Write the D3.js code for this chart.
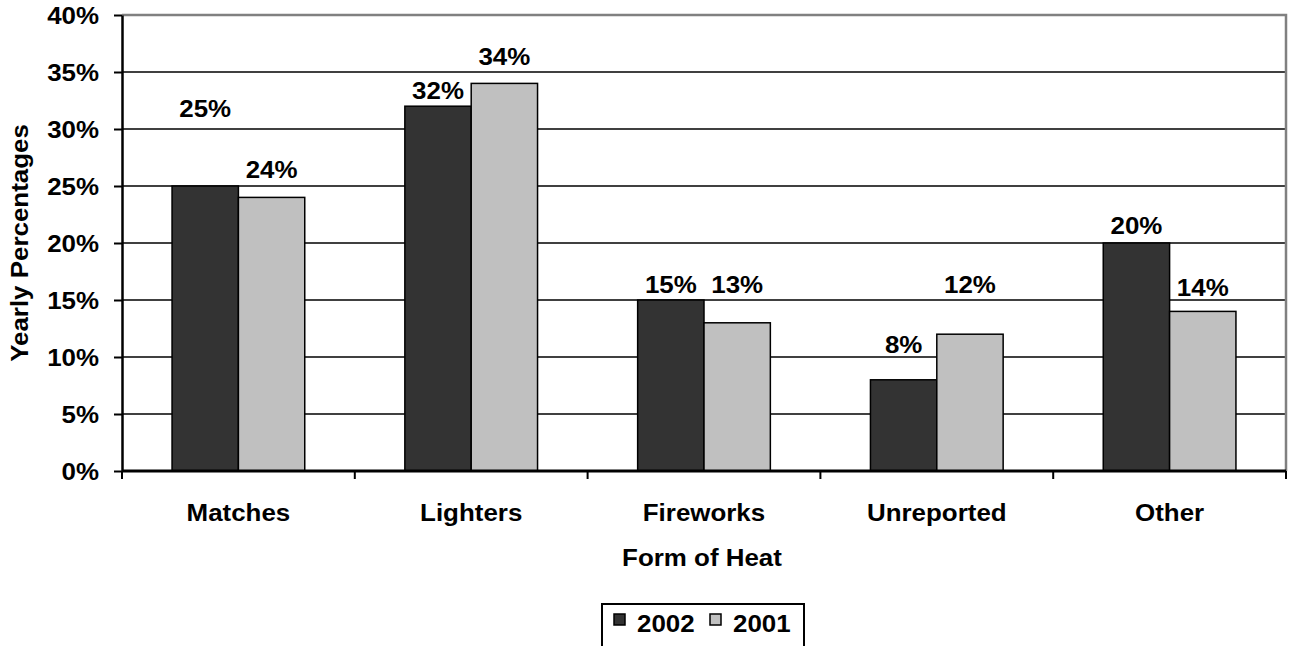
<!DOCTYPE html>
<html>
<head>
<meta charset="utf-8">
<script src="https://cdn.jsdelivr.net/npm/d3@7"></script>
<style>
  html, body { margin: 0; padding: 0; background: #fff; }
  svg text { font-family: "Liberation Sans", Arial, sans-serif; font-weight: bold; fill: #000; }
</style>
</head>
<body>
<svg id="chart" width="1289" height="646"></svg>
<script>
// Form of heat, yearly percentages
const categories = ["Matches", "Lighters", "Fireworks", "Unreported", "Other"];
const series = ["2002", "2001"];
const values2002 = [25, 32, 15, 8, 20];
const values2001 = [24, 34, 13, 12, 14];
const yTicks = [0, 5, 10, 15, 20, 25, 30, 35, 40];

const colors = { "2002": "#333333", "2001": "#c0c0c0" };
// extra lift (px) of each value label above its bar top
const labelLift = {
  "2002": [69, 7, 7, 27, 9],
  "2001": [19, 18, 30, 41, 15]
};

const svg = d3.select("#chart");
const margin = { left: 122, right: 3, top: 15, bottom: 175 };
const W = 1289, H = 646;
const plotW = W - margin.left - margin.right;
const plotH = H - margin.top - margin.bottom;
const g = svg.append("g").attr("transform", `translate(${margin.left},${margin.top})`);

const x = d3.scaleBand().domain(categories).range([0, plotW]).paddingInner(0).paddingOuter(0);
const groupPad = 0.215;
const x1 = d3.scaleBand().domain(series).range([x.bandwidth() * groupPad, x.bandwidth() * (1 - groupPad)]);
const y = d3.scaleLinear().domain([0, 40]).range([plotH, 0]);

const fs = 24;
const sx = 1.08;   // slightly widened lettering
const place = (px, py) => `translate(${px},${py}) scale(${sx},1)`;

// gridlines
g.append("g").selectAll("line").data(yTicks.filter(t => t > 0 && t < 40)).join("line")
  .attr("x1", 0).attr("x2", plotW)
  .attr("y1", d => y(d)).attr("y2", d => y(d))
  .attr("stroke", "#000").attr("stroke-width", 1.3);

// plot border (top and right)
g.append("path")
  .attr("d", `M0,${y(40)}H${plotW}V${plotH}`)
  .attr("fill", "none").attr("stroke", "#808080").attr("stroke-width", 2.5);

// bars
const rows = categories.map((c, i) => ({ c, i, vals: [
  { s: "2002", v: values2002[i] }, { s: "2001", v: values2001[i] }] }));

const grp = g.selectAll(".cat").data(rows).join("g")
  .attr("transform", d => `translate(${x(d.c)},0)`);

grp.selectAll("rect").data(d => d.vals).join("rect")
  .attr("x", d => x1(d.s))
  .attr("y", d => y(d.v))
  .attr("width", x1.bandwidth())
  .attr("height", d => plotH - y(d.v))
  .attr("fill", d => colors[d.s])
  .attr("stroke", "#000").attr("stroke-width", 1.5);

grp.selectAll("text.val").data(d => d.vals.map(v => ({ ...v, i: d.i }))).join("text")
  .attr("class", "val")
  .attr("transform", d => place(x1(d.s) + x1.bandwidth() / 2, y(d.v) - labelLift[d.s][d.i]))
  .attr("text-anchor", "middle")
  .attr("font-size", fs)
  .text(d => d.v + "%");

// y axis
const yAxis = g.append("g").call(d3.axisLeft(y).tickValues(yTicks).tickFormat(d => d + "%").tickSize(8).tickSizeOuter(0));
yAxis.select(".domain").attr("stroke", "#000").attr("stroke-width", 2.5);
yAxis.selectAll(".tick line").attr("stroke", "#000").attr("stroke-width", 2);
yAxis.selectAll(".tick text").attr("font-size", fs).attr("x", null).attr("dy", "0.36em")
  .attr("transform", place(-23, 0))
  .style("font-family", "'Liberation Sans', Arial, sans-serif").style("font-weight", "bold");

// x axis with category-boundary ticks
const xAxisG = g.append("g").attr("transform", `translate(0,${plotH})`);
xAxisG.append("line").attr("x1", 0).attr("x2", plotW).attr("y1", 0).attr("y2", 0)
  .attr("stroke", "#000").attr("stroke-width", 3);
const bounds = categories.map(c => x(c)).concat([plotW]);
xAxisG.selectAll("line.tk").data(bounds).join("line").attr("class", "tk")
  .attr("x1", d => d).attr("x2", d => d).attr("y1", 0).attr("y2", 8)
  .attr("stroke", "#000").attr("stroke-width", 2);
xAxisG.selectAll("text").data(categories).join("text")
  .attr("transform", d => place(x(d) + x.bandwidth() / 2, 50))
  .attr("text-anchor", "middle")
  .attr("font-size", fs)
  .text(d => d);

// axis titles
svg.append("text")
  .attr("transform", place(margin.left + plotW / 2 - 2, 566))
  .attr("text-anchor", "middle").attr("font-size", fs)
  .text("Form of Heat");
svg.append("text")
  .attr("transform", `translate(28,${margin.top + plotH / 2}) rotate(-90) scale(${sx},1)`)
  .attr("text-anchor", "middle").attr("font-size", fs)
  .text("Yearly Percentages");

// legend
const lg = svg.append("g").attr("transform", "translate(602,604)");
lg.append("rect").attr("x", 0).attr("y", 0).attr("width", 202).attr("height", 60)
  .attr("fill", "#fff").attr("stroke", "#000").attr("stroke-width", 2);
const items = lg.selectAll("g").data(series).join("g")
  .attr("transform", (d, i) => `translate(${12 + i * 96},10)`);
items.append("rect").attr("width", 11).attr("height", 11)
  .attr("fill", d => colors[d]).attr("stroke", "#000").attr("stroke-width", 1.5);
items.append("text").attr("transform", place(23, 18)).attr("font-size", fs).text(d => d);
</script>
</body>
</html>
